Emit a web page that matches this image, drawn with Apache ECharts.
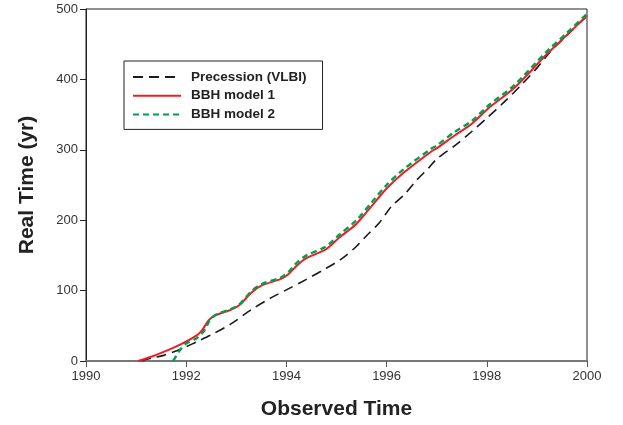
<!DOCTYPE html>
<html><head><meta charset="utf-8">
<script src="https://cdn.jsdelivr.net/npm/echarts@6/dist/echarts.min.js"></script>
<style>html,body{margin:0;padding:0;background:#fff}#c{width:623px;height:425px}</style>
</head><body><div id="c"></div>
<script>
const xTicks = [1990, 1992, 1994, 1996, 1998, 2000];
const yTicks = [0, 100, 200, 300, 400, 500];

const precYears = [1991.1,1991.3,1991.55,1991.9,1992.2,1992.55,1992.9,1993.3,1993.7,1994.0,1994.4,1994.75,1995.1,1995.4,1995.6,1995.85,1996.1,1996.35,1996.6,1996.85,1997.0,1997.4,1997.7,1998.0,1998.35,1998.7,1999.0,1999.25,1999.6,2000.0];
const precValues = [0,4,8,17,27,39,53,73,90,101,116,130,145,163,178,196,220,236,257,275,287,308,326,345,368,393,416,438,463,490];

const bbh1Years = [1991.04,1991.3,1991.55,1991.9,1992.2,1992.32,1992.45,1992.58,1992.9,1993.07,1993.3,1993.5,1993.9,1994.05,1994.2,1994.4,1994.75,1994.9,1995.05,1995.4,1995.7,1996.0,1996.35,1996.9,1997.0,1997.35,1997.7,1998.05,1998.55,1999.2,1999.6,2000.0];
const bbh1Values = [0,6,13,24,36,44,58,65,73,80,97,107,117,124,135,146,157,165,175,195,220,245,268,298,302,320,337,360,388,436,463,491];

const bbh2Years = [1991.74,1991.88,1992.0,1992.2,1992.37,1992.47,1992.6,1992.9,1993.07,1993.3,1993.5,1993.9,1994.05,1994.2,1994.4,1994.75,1994.9,1995.05,1995.4,1995.7,1996.0,1996.35,1996.9,1997.0,1997.35,1997.7,1998.05,1998.55,1999.2,1999.6,2000.0];
const bbh2Values = [0,16,25,32,44,58,66,74,81,99,109,119,127,139,150,161,169,179,200,225,250,273,302,306,325,341,364,392,440,466,493];

const seriesNames = ['Precession (VLBI)', 'BBH model 1', 'BBH model 2'];

function pairs(xs, ys){ return xs.map((x,i)=>[x, ys[i]]); }

const chart = echarts.init(document.getElementById('c'), null, {renderer:'canvas'});
const font = 'Liberation Sans, Arial, Helvetica, sans-serif';
chart.setOption({
  animation:false,
  backgroundColor:'#fff',
  grid:{left:86, right:36, top:9, bottom:64, show:true, borderColor:'#222', borderWidth:1, backgroundColor:'transparent'},
  xAxis:{
    type:'value', min:xTicks[0], max:xTicks[xTicks.length-1], interval:2,
    name:'Observed Time', nameLocation:'middle', nameGap:38,
    nameTextStyle:{fontFamily:font, fontWeight:'bold', fontSize:21, color:'#222'},
    axisLine:{show:true, onZero:false, lineStyle:{color:'#777', width:2}},
    axisTick:{show:true, length:6, inside:false, lineStyle:{color:'#555', width:1}},
    axisLabel:{fontFamily:font, fontSize:13, color:'#333', margin:9, formatter:v=>String(v)},
    splitLine:{show:false}
  },
  yAxis:{
    type:'value', min:yTicks[0], max:yTicks[yTicks.length-1], interval:100,
    name:'Real Time (yr)', nameLocation:'middle', nameGap:48,
    nameTextStyle:{fontFamily:font, fontWeight:'bold', fontSize:21, color:'#222'},
    axisLine:{show:true, onZero:false, lineStyle:{color:'#222', width:1}},
    axisTick:{show:true, length:6, lineStyle:{color:'#222', width:1}},
    axisLabel:{fontFamily:font, fontSize:13, color:'#333', margin:8, formatter:v=>String(v)},
    splitLine:{show:false}
  },
  legend:{
    orient:'vertical', left:124, top:61,
    data:seriesNames,
    itemWidth:48, itemHeight:14, itemGap:4.7,
    padding:[9,16,8,8],
    borderColor:'#222', borderWidth:1, backgroundColor:'#fff',
    itemStyle:{opacity:0, borderWidth:0},
    textStyle:{fontFamily:font, fontWeight:'bold', fontSize:13.5, color:'#222', padding:[0,0,0,5]}
  },
  series:[
    {name:seriesNames[0], type:'line', data:pairs(precYears, precValues), smooth:0.3, symbol:'none', z:3,
     lineStyle:{color:'#1a1a1a', width:1.6, type:[10,6]}, itemStyle:{color:'#1a1a1a'}},
    {name:seriesNames[1], type:'line', data:pairs(bbh1Years, bbh1Values), smooth:0.3, symbol:'none', z:4,
     lineStyle:{color:'#ee1c25', width:2}, itemStyle:{color:'#ee1c25'}},
    {name:seriesNames[2], type:'line', data:pairs(bbh2Years, bbh2Values), smooth:0.3, symbol:'none', z:5,
     lineStyle:{color:'#00a04a', width:2.4, type:[6,4]}, itemStyle:{color:'#00a04a'}}
  ]
});
</script></body></html>
